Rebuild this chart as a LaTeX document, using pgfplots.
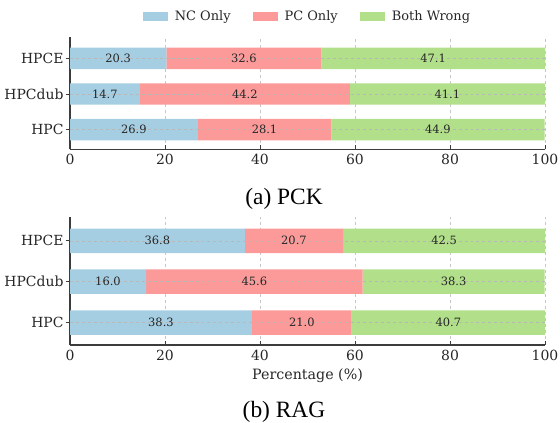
\documentclass[border=0pt]{standalone}
\usepackage{fontspec}
\setmainfont{DejaVu Serif}
\newfontfamily\capfont{Liberation Serif}
\usepackage{pgfplots}
\pgfplotsset{compat=1.18}
\definecolor{cblue}{HTML}{A6CEE3}
\definecolor{cred}{HTML}{FB9A99}
\definecolor{cgreen}{HTML}{B2DF8A}
\definecolor{spine}{HTML}{3C3C3C}
\definecolor{txt}{HTML}{262626}
\tikzset{lbl/.style={font=\fontsize{11.5}{11.5}\selectfont, text=txt},
  hgrid/.style={dashed, color=black!28, line width=0.6bp}}
\pgfplotsset{
  mybar/.style={
    scale only axis, width=475bp,
    xbar stacked, bar width=0.6,
    xmin=0, xmax=100, ymin=-0.55, ymax=2.59,
    ytick={0,1,2}, yticklabels={HPC,HPCdub,HPCE},
    xtick={0,20,...,100},
    axis x line*=bottom, axis y line*=left,
    axis line style={spine, line width=1.2bp},
    major tick length=4bp,
    x tick style={spine, line width=0.8bp}, xtick align=inside,
    y tick style={spine, line width=0.8bp}, ytick align=outside,
    xmajorgrids, grid style={dashed, black!22, line width=0.6bp},
    /pgf/number format/assume math mode=true,
    ticklabel style={font=\fontsize{14}{14}\selectfont, text=txt},
    yticklabel style={xshift=1bp},
    xticklabel style={yshift=-1.5bp},
    legend image code/.code={\fill[##1] (0bp,-4.2bp) rectangle (25bp,4.2bp);},
  },
}
\begin{document}
\begin{tikzpicture}
\useasboundingbox (0,0) rectangle (560bp,423bp);
% ---------- (a) PCK ----------
\begin{axis}[mybar, height=112bp, at={(70bp,273.7bp)}, anchor=south west,
  legend columns=3,
  legend style={draw=none, fill=none, at={(0.5,1)}, anchor=south, yshift=11bp,
    font=\fontsize{13}{13}\selectfont, text=txt},
  after end axis/.code={
    \foreach \yy in {0,1,2} {\draw[hgrid] (axis cs:0,\yy) -- (axis cs:100,\yy);}
    \node[lbl] at (axis cs:10.15,2) {20.3};
    \node[lbl] at (axis cs:36.6,2) {32.6};
    \node[lbl] at (axis cs:76.45,2) {47.1};
    \node[lbl] at (axis cs:7.35,1) {14.7};
    \node[lbl] at (axis cs:36.8,1) {44.2};
    \node[lbl] at (axis cs:79.45,1) {41.1};
    \node[lbl] at (axis cs:13.45,0) {26.9};
    \node[lbl] at (axis cs:40.95,0) {28.1};
    \node[lbl] at (axis cs:77.45,0) {44.9};
  },
  ]
\addplot[fill=cblue, draw=none] coordinates {(26.9,0) (14.7,1) (20.3,2)};
\addplot[fill=cred, draw=none] coordinates {(28.1,0) (44.2,1) (32.6,2)};
\addplot[fill=cgreen, draw=none] coordinates {(44.9,0) (41.1,1) (47.1,2)};
\legend{\hspace*{5bp}NC Only\hspace*{20bp}, \hspace*{5bp}PC Only\hspace*{20bp}, \hspace*{5bp}Both Wrong}
\end{axis}
% ---------- (b) RAG ----------
\begin{axis}[mybar, height=128.3bp, at={(70bp,78bp)}, anchor=south west,
  xlabel={Percentage (\%)},
  xlabel style={font=\fontsize{14.3}{14.3}\selectfont, text=txt, yshift=-1bp},
  after end axis/.code={
    \foreach \yy in {0,1,2} {\draw[hgrid] (axis cs:0,\yy) -- (axis cs:100,\yy);}
    \node[lbl] at (axis cs:18.4,2) {36.8};
    \node[lbl] at (axis cs:47.15,2) {20.7};
    \node[lbl] at (axis cs:78.75,2) {42.5};
    \node[lbl] at (axis cs:8.0,1) {16.0};
    \node[lbl] at (axis cs:38.8,1) {45.6};
    \node[lbl] at (axis cs:80.75,1) {38.3};
    \node[lbl] at (axis cs:19.15,0) {38.3};
    \node[lbl] at (axis cs:48.8,0) {21.0};
    \node[lbl] at (axis cs:79.65,0) {40.7};
  },
  ]
\addplot[fill=cblue, draw=none] coordinates {(38.3,0) (16.0,1) (36.8,2)};
\addplot[fill=cred, draw=none] coordinates {(21.0,0) (45.6,1) (20.7,2)};
\addplot[fill=cgreen, draw=none] coordinates {(40.7,0) (38.3,1) (42.5,2)};
\end{axis}
\node[font=\capfont\fontsize{23.5}{23.5}\selectfont] at (284bp,224bp) {(a) PCK};
\node[font=\capfont\fontsize{23.5}{23.5}\selectfont] at (284bp,11bp) {(b) RAG};
\end{tikzpicture}
\end{document}
